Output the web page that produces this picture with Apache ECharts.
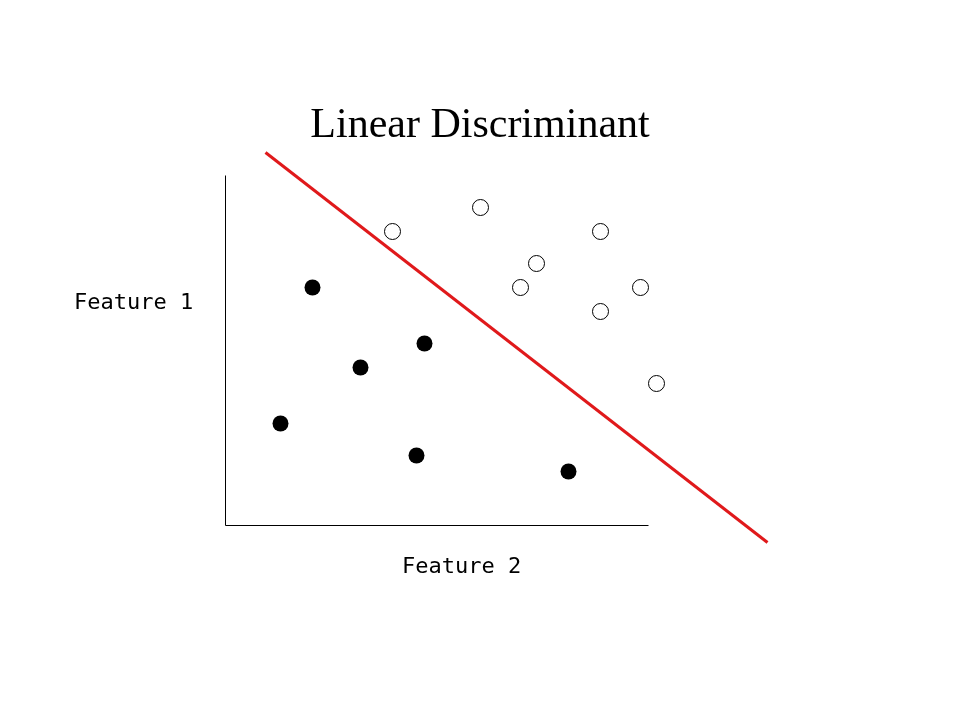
<!DOCTYPE html>
<html>
<head>
<meta charset="utf-8">
<script src="https://cdn.jsdelivr.net/npm/echarts@6/dist/echarts.min.js"></script>
<style>html,body{margin:0;padding:0;background:#fff}#chart{width:960px;height:720px}</style>
</head>
<body>
<div id="chart"></div>
<script>
// Data (arbitrary units: Feature 2 on x, Feature 1 on y)
const classA = [[87,238],[199,182],[135,158],[55,102],[191,70],[343,54]];           // filled
const classB = [[255,318],[167,294],[375,294],[311,262],[295,238],[415,238],[375,214],[431,142]]; // open
const discriminant = [[40,373],[542,-17]];
const xAxisLine = [[0,0],[423,0]];
const yAxisLine = [[0,0],[0,350]];
const titleText = "Linear Discriminant";
const yLabel = "Feature 1";
const xLabel = "Feature 2";

const chart = echarts.init(document.getElementById('chart'), null, {renderer:'canvas'});
chart.setOption({
  backgroundColor: '#fff',
  animation: false,
  title: [
    {text: titleText, left: 'center', top: 100,
     textStyle: {fontFamily: 'Liberation Serif', fontWeight: 'normal', fontSize: 42, color: '#000'}},
    {text: yLabel, left: 74, top: 292, padding: 0,
     textStyle: {fontFamily: 'DejaVu Sans Mono', fontWeight: 'normal', fontSize: 22, color: '#000'}},
    {text: xLabel, left: 402, top: 556, padding: 0,
     textStyle: {fontFamily: 'DejaVu Sans Mono', fontWeight: 'normal', fontSize: 22, color: '#000'}}
  ],
  // 1 data unit = 1 px; x 0..560, y -30..380
  grid: {left: 225.5, top: 145.5, width: 560, height: 410, containLabel: false},
  xAxis: {type: 'value', min: 0, max: 560, show: true,
    axisLine: {show: false}, axisTick: {show: false}, axisLabel: {show: false}, splitLine: {show: false}},
  yAxis: {type: 'value', min: -30, max: 380, show: true,
    axisLine: {show: false}, axisTick: {show: false}, axisLabel: {show: false}, splitLine: {show: false}},
  series: [
    {type: 'line', data: xAxisLine, symbol: 'none', silent: true,
     lineStyle: {color: '#000', width: 1}, z: 1},
    {type: 'line', data: yAxisLine, symbol: 'none', silent: true,
     lineStyle: {color: '#000', width: 1}, z: 1},
    {type: 'line', data: discriminant, clip: false, symbol: 'none',
     lineStyle: {color: '#e0191b', width: 3}, z: 2},
    {type: 'scatter', data: classA, clip: false, symbol: 'circle', symbolSize: 16,
     itemStyle: {color: '#000', opacity: 1}, z: 3},
    {type: 'scatter', data: classB, clip: false, symbol: 'circle', symbolSize: 16,
     itemStyle: {color: '#fff', borderColor: '#000', borderWidth: 1, opacity: 1}, z: 3}
  ]
});
</script>
</body>
</html>
